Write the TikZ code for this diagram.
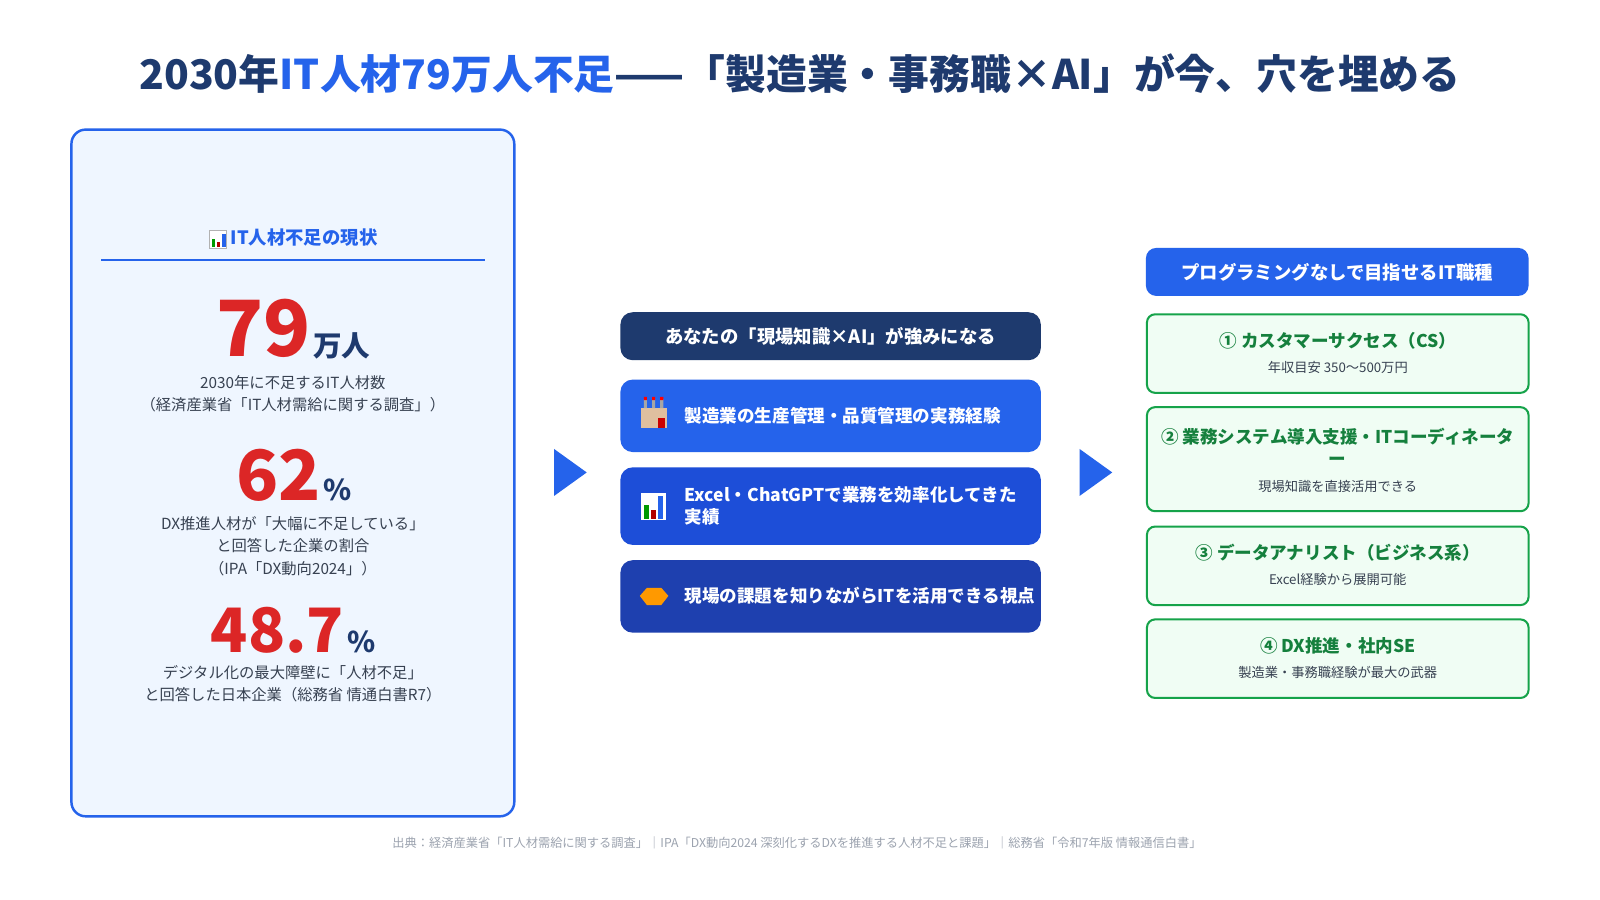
\documentclass[tikz,border=0pt]{standalone}
\usepackage{fontspec}
\setmainfont{Noto Sans CJK JP}
\usetikzlibrary{positioning}
\definecolor{navy}{HTML}{1E3A6E}
\definecolor{itblue}{HTML}{2563EB}
\definecolor{boxa}{HTML}{2563EB}
\definecolor{boxb}{HTML}{1D4ED8}
\definecolor{boxc}{HTML}{1E40AF}
\definecolor{numred}{HTML}{DC2626}
\definecolor{bodygray}{HTML}{374151}
\definecolor{notegray}{HTML}{9CA3AF}
\definecolor{panelbg}{HTML}{EFF6FF}
\definecolor{cardgreen}{HTML}{16A34A}
\definecolor{cardtext}{HTML}{15803D}
\definecolor{cardbg}{HTML}{F0FDF4}
\tikzset{
	body/.style={text=bodygray, font=\fontsize{7.5}{11}\selectfont, align=center},
	bignum/.style={text=numred, font=\bfseries\fontsize{38}{38}\selectfont, inner sep=0pt},
	unit/.style={text=navy, font=\bfseries\fontsize{14}{14}\selectfont, inner sep=0pt},
	strength/.style={rounded corners=6pt, inner sep=0pt},
	strtext/.style={text=white, font=\bfseries\fontsize{8.6}{11}\selectfont, anchor=west, align=left, text width=170pt},
	card/.style={draw=cardgreen, line width=1pt, fill=cardbg, rounded corners=4pt},
	cardtitle/.style={text=cardtext, font=\bfseries\fontsize{8.6}{11}\selectfont, align=center},
	cardsub/.style={text=bodygray, font=\fontsize{6.5}{8}\selectfont},
	flowtip/.style={fill=itblue, draw=none}
}
\begin{document}
\begin{tikzpicture}[x=0.5pt, y=-0.5pt]
	\useasboundingbox[fill=white] (0,0) rectangle (1568,882);

	% title
	\node[font=\bfseries\fontsize{20}{20}\selectfont, text=navy] (title) at (784,72)
		{2030年\textcolor{itblue}{IT人材79万人不足}——「製造業・事務職×AI」が今、穴を埋める};

	% left panel
	\draw[draw=itblue, line width=1.2pt, fill=panelbg, rounded corners=7pt] (70,127) rectangle (504,800);
	\node[text=itblue, font=\bfseries\fontsize{9}{9}\selectfont] (stathead) at (298,233) {IT人材不足の現状};
	% chart icon
	\fill[white, draw=gray!60] (205,226) rectangle (222,243);
	\fill[green!60!black] (208,234) rectangle (211,242);
	\fill[red!70!black] (213,237) rectangle (216,242);
	\fill[itblue] (218,229) rectangle (221,242);
	\draw[itblue, line width=0.8pt] (99,255) -- (475,255);

	\node[bignum] (numa) at (258,322) {79};
	\node[unit, anchor=base west, xshift=1pt] (unita) at (numa.base east) {万人};
	\node[body] (texta) at (287,386) {2030年に不足するIT人材数\\（経済産業省「IT人材需給に関する調査」）};

	\node[bignum, font=\bfseries\fontsize{34}{34}\selectfont] (numb) at (273,466) {62};
	\node[unit, anchor=base west, xshift=1pt] (unitb) at (numb.base east) {\%};
	\node[body] (textb) at (287,535) {DX推進人材が「大幅に不足している」\\と回答した企業の割合\\（IPA「DX動向2024」）};

	\node[bignum, font=\bfseries\fontsize{30}{30}\selectfont] (numc) at (272,618) {48.7};
	\node[unit, anchor=base west, xshift=1pt] (unitc) at (numc.base east) {\%};
	\node[body] (textc) at (287,670) {デジタル化の最大障壁に「人材不足」\\と回答した日本企業（総務省 情通白書R7）};

	% flow tips
	\fill[flowtip] (543,440) -- (575,463) -- (543,486) -- cycle;
	\fill[flowtip] (1058,440) -- (1090,463) -- (1058,486) -- cycle;

	% middle column
	\fill[navy, strength] (608,306) rectangle (1020,353);
	\node[text=white, font=\bfseries\fontsize{9}{9}\selectfont] (midhead) at (814,329.5) {あなたの「現場知識×AI」が強みになる};
	\fill[boxa, strength] (608,372) rectangle (1020,443);
	\fill[boxb, strength] (608,458) rectangle (1020,534);
	\fill[boxc, strength] (608,549) rectangle (1020,620);
	\node[strtext] (stra) at (664,407) {製造業の生産管理・品質管理の実務経験};
	\node[strtext] (strb) at (664,496) {Excel・ChatGPTで業務を効率化してきた\\実績};
	\node[strtext] (strc) at (664,584) {現場の課題を知りながらITを活用できる視点};
	% factory icon
	\fill[brown!50] (628,400) rectangle (654,419);
	\fill[gray!70] (631,391) rectangle (634,400) (639,391) rectangle (642,400) (647,391) rectangle (650,400);
	\fill[red] (631,389) rectangle (634,392) (639,389) rectangle (642,392) (647,389) rectangle (650,392);
	\fill[red!80!black] (645,410) rectangle (652,419);
	% chart icon
	\fill[white] (628,483) rectangle (653,510);
	\fill[green!60!black] (631,495) rectangle (636,509);
	\fill[red!70!black] (638,500) rectangle (643,509);
	\fill[boxa] (645,486) rectangle (650,509);
	% handshake icon
	\fill[orange!80!yellow] (627,584) -- (634,576) -- (648,576) -- (655,584) -- (648,593) -- (634,593) -- cycle;

	% right column
	\fill[itblue, rounded corners=5pt] (1123,243) rectangle (1498,290);
	\node[text=white, font=\bfseries\fontsize{9}{9}\selectfont] (jobhead) at (1310.5,266.5) {プログラミングなしで目指せるIT職種};

	\draw[card] (1124,308) rectangle (1498,385);
	\node[cardtitle] (joba) at (1311,334) {① カスタマーサクセス（CS）};
	\node[cardsub] (suba) at (1311,360) {年収目安 350～500万円};

	\draw[card] (1124,399) rectangle (1498,501);
	\node[cardtitle] (jobb) at (1311,438) {② 業務システム導入支援・ITコーディネータ\\ー};
	\node[cardsub] (subb) at (1311,477) {現場知識を直接活用できる};

	\draw[card] (1124,516) rectangle (1498,593);
	\node[cardtitle] (jobc) at (1311,542) {③ データアナリスト（ビジネス系）};
	\node[cardsub] (subc) at (1311,568) {Excel経験から展開可能};

	\draw[card] (1124,607) rectangle (1498,684);
	\node[cardtitle] (jobd) at (1311,633) {④ DX推進・社内SE};
	\node[cardsub] (subd) at (1311,659) {製造業・事務職経験が最大の武器};

	% footer
	\node[text=notegray, font=\fontsize{6}{6}\selectfont] (source) at (781,826)
		{出典：経済産業省「IT人材需給に関する調査」｜IPA「DX動向2024 深刻化するDXを推進する人材不足と課題」｜総務省「令和7年版 情報通信白書」};
\end{tikzpicture}
\end{document}
